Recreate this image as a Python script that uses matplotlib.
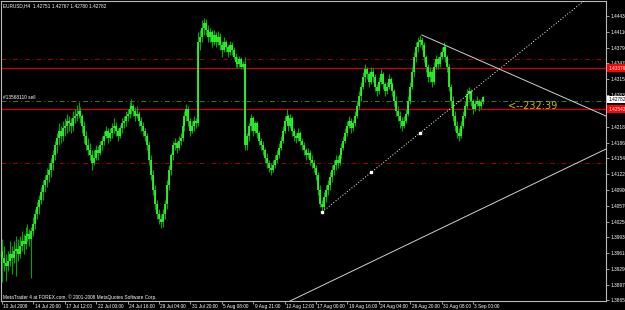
import matplotlib
matplotlib.use("Agg")
import matplotlib.pyplot as plt
import matplotlib.transforms as mtransforms
import numpy as np

# ---------------- data (EURUSD H4) ----------------
open_ = [
    1.3965, 1.3950, 1.3940, 1.3935, 1.3945, 1.3960, 1.3950, 1.3965, 1.3970, 1.3960,
    1.3975, 1.3985, 1.3980, 1.3995, 1.4000, 1.3990, 1.4005, 1.4020, 1.4040, 1.4055,
    1.4070, 1.4085, 1.4100, 1.4110, 1.4120, 1.4130, 1.4145, 1.4160, 1.4180, 1.4195,
    1.4210, 1.4200, 1.4215, 1.4220, 1.4230, 1.4225, 1.4220, 1.4235, 1.4240, 1.4245,
    1.4250, 1.4240, 1.4220, 1.4200, 1.4180, 1.4170, 1.4160, 1.4145, 1.4155, 1.4170,
    1.4165, 1.4180, 1.4190, 1.4200, 1.4210, 1.4195, 1.4205, 1.4215, 1.4220, 1.4210,
    1.4200, 1.4215, 1.4225, 1.4230, 1.4240, 1.4245, 1.4255, 1.4260, 1.4250, 1.4240,
    1.4245, 1.4230, 1.4220, 1.4210, 1.4200, 1.4180, 1.4150, 1.4120, 1.4090, 1.4060,
    1.4040, 1.4030, 1.4025, 1.4040, 1.4060, 1.4100, 1.4130, 1.4160, 1.4180, 1.4185,
    1.4175, 1.4190, 1.4195, 1.4220, 1.4240, 1.4255, 1.4230, 1.4210, 1.4220, 1.4230,
    1.4225, 1.4390, 1.4400, 1.4420, 1.4430, 1.4415, 1.4400, 1.4410, 1.4390, 1.4405,
    1.4390, 1.4400, 1.4385, 1.4375, 1.4390, 1.4380, 1.4370, 1.4385, 1.4375, 1.4360,
    1.4350, 1.4345, 1.4355, 1.4340, 1.4345, 1.4180, 1.4200, 1.4220, 1.4235, 1.4210,
    1.4225, 1.4205, 1.4190, 1.4180, 1.4170, 1.4155, 1.4145, 1.4135, 1.4130, 1.4140,
    1.4150, 1.4160, 1.4175, 1.4190, 1.4210, 1.4230, 1.4240, 1.4220, 1.4235, 1.4210,
    1.4200, 1.4195, 1.4205, 1.4190, 1.4180, 1.4170, 1.4160, 1.4165, 1.4150, 1.4145,
    1.4135, 1.4120, 1.4090, 1.4060, 1.4055, 1.4075, 1.4090, 1.4100, 1.4115, 1.4130,
    1.4140, 1.4150, 1.4145, 1.4160, 1.4175, 1.4190, 1.4205, 1.4220, 1.4230, 1.4215,
    1.4225, 1.4240, 1.4260, 1.4280, 1.4300, 1.4320, 1.4335, 1.4325, 1.4310, 1.4330,
    1.4320, 1.4300, 1.4290, 1.4310, 1.4325, 1.4305, 1.4290, 1.4300, 1.4315, 1.4305,
    1.4290, 1.4270, 1.4250, 1.4240, 1.4230, 1.4220, 1.4230, 1.4245, 1.4270, 1.4300,
    1.4330, 1.4360, 1.4380, 1.4390, 1.4395, 1.4385, 1.4360, 1.4340, 1.4320, 1.4330,
    1.4310, 1.4340, 1.4355, 1.4345, 1.4360, 1.4370, 1.4380, 1.4360, 1.4340, 1.4300,
    1.4270, 1.4240, 1.4220, 1.4205, 1.4200, 1.4220, 1.4240, 1.4260, 1.4285, 1.4290,
    1.4270, 1.4255, 1.4265, 1.4270, 1.4260, 1.4268,
]
high = [
    1.3990, 1.3975, 1.3960, 1.3965, 1.3985, 1.3975, 1.3985, 1.3995, 1.3990, 1.3995,
    1.4005, 1.4000, 1.4015, 1.4020, 1.4010, 1.4015, 1.4035, 1.4050, 1.4065, 1.4080,
    1.4095, 1.4110, 1.4120, 1.4135, 1.4145, 1.4155, 1.4170, 1.4190, 1.4205, 1.4225,
    1.4220, 1.4230, 1.4235, 1.4245, 1.4240, 1.4235, 1.4250, 1.4255, 1.4262, 1.4268,
    1.4258, 1.4245, 1.4230, 1.4210, 1.4195, 1.4185, 1.4170, 1.4170, 1.4180, 1.4178,
    1.4190, 1.4200, 1.4210, 1.4220, 1.4215, 1.4215, 1.4225, 1.4235, 1.4228, 1.4215,
    1.4222, 1.4235, 1.4240, 1.4250, 1.4255, 1.4268, 1.4275, 1.4265, 1.4258, 1.4260,
    1.4250, 1.4238, 1.4228, 1.4215, 1.4205, 1.4190, 1.4160, 1.4130, 1.4100, 1.4070,
    1.4050, 1.4040, 1.4050, 1.4070, 1.4110, 1.4140, 1.4165, 1.4190, 1.4195, 1.4190,
    1.4200, 1.4205, 1.4230, 1.4250, 1.4265, 1.4260, 1.4235, 1.4230, 1.4240, 1.4235,
    1.4410, 1.4415, 1.4435, 1.4440, 1.4438, 1.4425, 1.4420, 1.4415, 1.4415, 1.4410,
    1.4412, 1.4408, 1.4392, 1.4400, 1.4395, 1.4385, 1.4392, 1.4390, 1.4380, 1.4368,
    1.4360, 1.4362, 1.4360, 1.4352, 1.4360, 1.4205, 1.4225, 1.4245, 1.4240, 1.4230,
    1.4230, 1.4210, 1.4195, 1.4190, 1.4175, 1.4165, 1.4150, 1.4145, 1.4150, 1.4160,
    1.4170, 1.4185, 1.4200, 1.4220, 1.4240, 1.4255, 1.4245, 1.4245, 1.4240, 1.4215,
    1.4205, 1.4215, 1.4210, 1.4195, 1.4188, 1.4175, 1.4175, 1.4170, 1.4160, 1.4150,
    1.4140, 1.4125, 1.4100, 1.4070, 1.4085, 1.4100, 1.4110, 1.4125, 1.4140, 1.4150,
    1.4160, 1.4158, 1.4170, 1.4185, 1.4200, 1.4215, 1.4230, 1.4240, 1.4235, 1.4232,
    1.4250, 1.4270, 1.4290, 1.4310, 1.4330, 1.4345, 1.4340, 1.4330, 1.4340, 1.4338,
    1.4325, 1.4305, 1.4320, 1.4335, 1.4330, 1.4310, 1.4310, 1.4325, 1.4320, 1.4310,
    1.4295, 1.4280, 1.4260, 1.4250, 1.4238, 1.4240, 1.4255, 1.4280, 1.4310, 1.4340,
    1.4370, 1.4390, 1.4400, 1.4405, 1.4400, 1.4390, 1.4365, 1.4345, 1.4340, 1.4335,
    1.4350, 1.4365, 1.4360, 1.4370, 1.4380, 1.4390, 1.4385, 1.4365, 1.4345, 1.4305,
    1.4280, 1.4250, 1.4230, 1.4215, 1.4230, 1.4250, 1.4270, 1.4295, 1.4300, 1.4295,
    1.4275, 1.4272, 1.4280, 1.4275, 1.4275, 1.4280,
]
low = [
    1.3902, 1.3925, 1.3905, 1.3925, 1.3935, 1.3918, 1.3940, 1.3915, 1.3945, 1.3950,
    1.3965, 1.3960, 1.3970, 1.3985, 1.3975, 1.3910, 1.3995, 1.4010, 1.4030, 1.4040,
    1.4060, 1.4070, 1.4085, 1.4095, 1.4105, 1.4115, 1.4130, 1.4150, 1.4165, 1.4180,
    1.4185, 1.4190, 1.4200, 1.4205, 1.4210, 1.4205, 1.4210, 1.4225, 1.4230, 1.4235,
    1.4225, 1.4205, 1.4185, 1.4170, 1.4160, 1.4150, 1.4130, 1.4140, 1.4150, 1.4150,
    1.4160, 1.4170, 1.4180, 1.4195, 1.4185, 1.4190, 1.4195, 1.4205, 1.4200, 1.4190,
    1.4195, 1.4205, 1.4215, 1.4220, 1.4230, 1.4235, 1.4245, 1.4240, 1.4230, 1.4235,
    1.4220, 1.4210, 1.4200, 1.4190, 1.4170, 1.4140, 1.4110, 1.4080, 1.4050, 1.4030,
    1.4020, 1.4012, 1.4015, 1.4030, 1.4050, 1.4090, 1.4120, 1.4150, 1.4170, 1.4165,
    1.4170, 1.4180, 1.4190, 1.4210, 1.4230, 1.4220, 1.4200, 1.4205, 1.4210, 1.4215,
    1.4220, 1.4375, 1.4390, 1.4405, 1.4405, 1.4390, 1.4390, 1.4380, 1.4385, 1.4380,
    1.4385, 1.4375, 1.4360, 1.4370, 1.4370, 1.4360, 1.4365, 1.4365, 1.4355, 1.4340,
    1.4338, 1.4340, 1.4335, 1.4335, 1.4170, 1.4170, 1.4190, 1.4210, 1.4200, 1.4205,
    1.4195, 1.4180, 1.4170, 1.4160, 1.4145, 1.4135, 1.4125, 1.4120, 1.4125, 1.4135,
    1.4145, 1.4155, 1.4170, 1.4185, 1.4205, 1.4225, 1.4210, 1.4215, 1.4200, 1.4190,
    1.4185, 1.4190, 1.4180, 1.4170, 1.4160, 1.4150, 1.4155, 1.4140, 1.4135, 1.4125,
    1.4110, 1.4080, 1.4055, 1.4045, 1.4050, 1.4065, 1.4080, 1.4090, 1.4105, 1.4120,
    1.4130, 1.4135, 1.4140, 1.4155, 1.4170, 1.4185, 1.4200, 1.4215, 1.4205, 1.4210,
    1.4220, 1.4235, 1.4255, 1.4270, 1.4295, 1.4310, 1.4315, 1.4300, 1.4305, 1.4310,
    1.4290, 1.4280, 1.4285, 1.4305, 1.4295, 1.4280, 1.4285, 1.4295, 1.4295, 1.4280,
    1.4260, 1.4240, 1.4230, 1.4215, 1.4210, 1.4215, 1.4225, 1.4240, 1.4265, 1.4295,
    1.4320, 1.4350, 1.4370, 1.4380, 1.4375, 1.4350, 1.4330, 1.4310, 1.4310, 1.4300,
    1.4305, 1.4335, 1.4335, 1.4340, 1.4355, 1.4365, 1.4350, 1.4330, 1.4290, 1.4260,
    1.4230, 1.4210, 1.4195, 1.4190, 1.4195, 1.4215, 1.4235, 1.4255, 1.4275, 1.4260,
    1.4245, 1.4250, 1.4260, 1.4250, 1.4255, 1.4265,
]
close = [
    1.3950, 1.3940, 1.3935, 1.3945, 1.3960, 1.3950, 1.3965, 1.3970, 1.3960, 1.3975,
    1.3985, 1.3980, 1.3995, 1.4000, 1.3990, 1.4005, 1.4020, 1.4040, 1.4055, 1.4070,
    1.4085, 1.4100, 1.4110, 1.4120, 1.4130, 1.4145, 1.4160, 1.4180, 1.4195, 1.4210,
    1.4200, 1.4215, 1.4220, 1.4230, 1.4225, 1.4220, 1.4235, 1.4240, 1.4245, 1.4250,
    1.4240, 1.4220, 1.4200, 1.4180, 1.4170, 1.4160, 1.4145, 1.4155, 1.4170, 1.4165,
    1.4180, 1.4190, 1.4200, 1.4210, 1.4195, 1.4205, 1.4215, 1.4220, 1.4210, 1.4200,
    1.4215, 1.4225, 1.4230, 1.4240, 1.4245, 1.4255, 1.4260, 1.4250, 1.4240, 1.4245,
    1.4230, 1.4220, 1.4210, 1.4200, 1.4180, 1.4150, 1.4120, 1.4090, 1.4060, 1.4040,
    1.4030, 1.4025, 1.4040, 1.4060, 1.4100, 1.4130, 1.4160, 1.4180, 1.4185, 1.4175,
    1.4190, 1.4195, 1.4220, 1.4240, 1.4255, 1.4230, 1.4210, 1.4220, 1.4230, 1.4225,
    1.4390, 1.4400, 1.4420, 1.4430, 1.4415, 1.4400, 1.4410, 1.4390, 1.4405, 1.4390,
    1.4400, 1.4385, 1.4375, 1.4390, 1.4380, 1.4370, 1.4385, 1.4375, 1.4360, 1.4350,
    1.4345, 1.4355, 1.4340, 1.4345, 1.4180, 1.4200, 1.4220, 1.4235, 1.4210, 1.4225,
    1.4205, 1.4190, 1.4180, 1.4170, 1.4155, 1.4145, 1.4135, 1.4130, 1.4140, 1.4150,
    1.4160, 1.4175, 1.4190, 1.4210, 1.4230, 1.4240, 1.4220, 1.4235, 1.4210, 1.4200,
    1.4195, 1.4205, 1.4190, 1.4180, 1.4170, 1.4160, 1.4165, 1.4150, 1.4145, 1.4135,
    1.4120, 1.4090, 1.4060, 1.4055, 1.4075, 1.4090, 1.4100, 1.4115, 1.4130, 1.4140,
    1.4150, 1.4145, 1.4160, 1.4175, 1.4190, 1.4205, 1.4220, 1.4230, 1.4215, 1.4225,
    1.4240, 1.4260, 1.4280, 1.4300, 1.4320, 1.4335, 1.4325, 1.4310, 1.4330, 1.4320,
    1.4300, 1.4290, 1.4310, 1.4325, 1.4305, 1.4290, 1.4300, 1.4315, 1.4305, 1.4290,
    1.4270, 1.4250, 1.4240, 1.4230, 1.4220, 1.4230, 1.4245, 1.4270, 1.4300, 1.4330,
    1.4360, 1.4380, 1.4390, 1.4395, 1.4385, 1.4360, 1.4340, 1.4320, 1.4330, 1.4310,
    1.4340, 1.4355, 1.4345, 1.4360, 1.4370, 1.4380, 1.4360, 1.4340, 1.4300, 1.4270,
    1.4240, 1.4220, 1.4205, 1.4200, 1.4220, 1.4240, 1.4260, 1.4285, 1.4290, 1.4270,
    1.4255, 1.4265, 1.4270, 1.4260, 1.4268, 1.42782,
]

price_ticks = [1.44430, 1.44110, 1.43790, 1.43470, 1.43150, 1.42830, 1.42510, 1.42180,
               1.41860, 1.41540, 1.41220, 1.40900, 1.40570, 1.40250, 1.39930, 1.39610,
               1.39290, 1.38970, 1.38650]
hidden_tick_labels = [1.42510]          # covered by the red price box
time_labels = ["10 Jul 2009", "14 Jul 20:00", "17 Jul 12:00", "22 Jul 00:00", "24 Jul 16:00",
               "29 Jul 04:00", "31 Jul 20:00", "5 Aug 08:00", "9 Aug 21:00", "12 Aug 12:00",
               "17 Aug 00:00", "19 Aug 16:00", "24 Aug 04:00", "26 Aug 20:00", "31 Aug 08:00",
               "3 Sep 00:00"]
time_label_bars = [0, 16, 32, 48, 64, 80, 96, 112, 128, 144, 160, 176, 192, 208, 224, 240]

red_solid_levels = [1.43376, 1.42542]
red_solid_labels = ["1.43376", "1.42542"]
red_dashdot_levels = [1.43559, 1.41443]
green_dashdot_levels = [1.42695]
bid_label = "1.42782"

# trend lines: (bar index, price)
dotted_trend = [(163.1, 1.40446), (297.1, 1.44760)]
dotted_anchors_x = [163.1, 188.0, 213.0]
dotted_anchors_y = [1.40446, 1.41250, 1.42054]
desc_trend = [(214.0, 1.44048), (307.8, 1.42399)]
asc_trend = [(146.8, 1.38635), (307.8, 1.41728)]

title = "EURUSD,H4  1.42751 1.42767 1.42780 1.42782"
copyright_txt = "MetaTrader 4 at FOREX.com, © 2001-2008 MetaQuotes Software Corp."
order_txt = "#13568110 sell"
timer_txt = "<--232:39"

# ---------------- figure ----------------
W, H = 625, 310
SMALL = 3.4
FONT = "Liberation Sans"
fig = plt.figure(figsize=(W / 100, H / 100), dpi=100, facecolor="black")
ax = fig.add_axes([1 / W, (H - 301) / H, 605 / W, 300 / H], facecolor="black")
ax.set_xlim(-0.5, 307.8)
ax.set_ylim(1.38635, 1.44740)

xs = np.arange(len(close))
op = np.array(open_)
cl = np.array(close)
ax.vlines(xs, low, high, color="#00a800", lw=0.8, zorder=3)
ax.vlines(xs, np.minimum(op, cl), np.maximum(op, cl), color="#2cff2c", lw=1.25, zorder=4)

GRAY = "#b8b8b8"
for lv in red_solid_levels:
    ax.axhline(lv, color="#d00000", lw=0.9, zorder=2)
for lv in red_dashdot_levels:
    ax.axhline(lv, color="#a00000", lw=0.7, ls=(0, (5, 3, 1, 3)), zorder=2)
for lv in green_dashdot_levels:
    ax.axhline(lv, color="#1e8a1e", lw=0.7, ls=(0, (5, 3, 1, 3)), zorder=2)


def ray(p0, p1, **kw):
    (x0, y0), (x1, y1) = p0, p1
    slope = (y1 - y0) / (x1 - x0)
    xe = 330.0
    ax.plot([x0, xe], [y0, y0 + slope * (xe - x0)], **kw)


ray(dotted_trend[0], dotted_trend[1], color="white", lw=0.7, ls=(0, (1, 2)), zorder=5)
ax.plot(dotted_anchors_x, dotted_anchors_y, ls="none", marker="s", ms=1.6, color="white", zorder=6)
ray(desc_trend[0], desc_trend[1], color="#d0d0d0", lw=0.7, zorder=5)
ray(asc_trend[0], asc_trend[1], color="#d0d0d0", lw=0.7, zorder=5)

for s in ax.spines.values():
    s.set_color(GRAY)
    s.set_linewidth(0.8)
ax.yaxis.tick_right()
ax.set_yticks(price_ticks)
ax.set_yticklabels(["" if p in hidden_tick_labels else f"{p:.5f}" for p in price_ticks],
                   family=FONT)
ax.set_xticks(time_label_bars)
ax.set_xticklabels(time_labels, ha="left", family=FONT)
ax.tick_params(axis="y", colors=GRAY, labelsize=SMALL, length=2, width=0.6, pad=1, labelcolor="white")
ax.tick_params(axis="x", colors=GRAY, labelsize=SMALL, length=2, width=0.6, pad=0.5, labelcolor="white")
off = mtransforms.ScaledTranslation(1.5 / 100, 0, fig.dpi_scale_trans)
for lab in ax.get_xticklabels():
    lab.set_transform(lab.get_transform() + off)

# right-hand price boxes
btr = mtransforms.blended_transform_factory(ax.transAxes, ax.transData)
for lv, txt in zip(red_solid_levels, red_solid_labels):
    ax.text(1.004, lv, txt, transform=btr, color="white", fontsize=SMALL, family=FONT,
            va="center", ha="left", clip_on=False, zorder=10,
            bbox=dict(boxstyle="square,pad=0.25", fc="#ff0000", ec="none"))
ax.text(1.004, close[-1], bid_label, transform=btr, color="black", fontsize=SMALL, family=FONT,
        va="top", ha="left", clip_on=False, zorder=10,
        bbox=dict(boxstyle="square,pad=0.25", fc="white", ec="none"))

fig.text(3 / W, 1 - 6 / H, title, color="white", fontsize=SMALL, family=FONT, va="center", ha="left")
fig.text(3 / W, 1 - 297 / H, copyright_txt, color="white", fontsize=SMALL, family=FONT,
         va="center", ha="left")
ax.text(0.5, green_dashdot_levels[0] + 0.0004, order_txt, color="white", fontsize=SMALL,
        family=FONT, va="bottom", ha="left")
ax.text(258, 1.4261, timer_txt, color="#c8c000", fontsize=7, va="center", ha="left", zorder=7)

fig.savefig("out.png", dpi=100, facecolor="black")
